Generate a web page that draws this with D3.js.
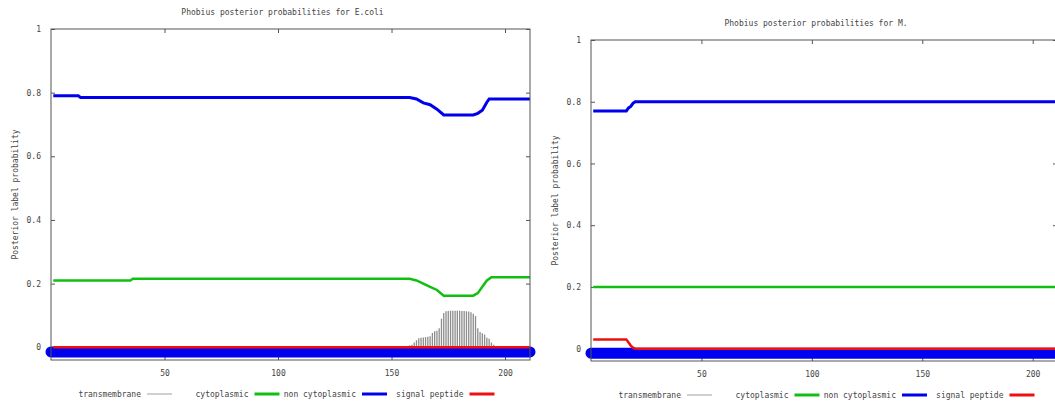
<!DOCTYPE html>
<html>
<head>
<meta charset="utf-8">
<script src="https://cdn.jsdelivr.net/npm/d3@7"></script>
<style>
  body { margin: 0; background: #fff; }
  text { font-family: "DejaVu Sans Mono", monospace; font-size: 8px; fill: #444; }
</style>
</head>
<body>
<div id="chart"></div>
<script>
const yTicks = [0, 0.2, 0.4, 0.6, 0.8, 1];
const xTicks = [50, 100, 150, 200];
const legendNames = ["transmembrane", "cytoplasmic", "non cytoplasmic", "signal peptide"];
const legendColors = ["#a0a0a0", "#10c010", "#0000ee", "#ee1010"];

// E.coli
const ecoliTmStart = 156;
const ecoliTm = [0.002, 0.004, 0.006, 0.008, 0.015, 0.022, 0.028, 0.03, 0.031, 0.032,
  0.033, 0.035, 0.045, 0.05, 0.052, 0.06, 0.09, 0.108, 0.113, 0.114,
  0.115, 0.115, 0.115, 0.115, 0.115, 0.114, 0.114, 0.113, 0.112, 0.11,
  0.105, 0.098, 0.06, 0.048, 0.044, 0.04, 0.03, 0.027, 0.015, 0.008,
  0.004, 0.001];
const ecoliCyto = [[1, 0.21], [35, 0.21], [36, 0.215], [158, 0.215], [161, 0.21], [164, 0.2],
  [167, 0.19], [170, 0.18], [173, 0.162], [186, 0.162], [188, 0.17], [190, 0.19],
  [192, 0.21], [194, 0.22], [211, 0.22]];
const ecoliNonCyto = [[1, 0.79], [12, 0.79], [13, 0.785], [158, 0.785], [161, 0.78], [164, 0.768],
  [167, 0.762], [170, 0.748], [173, 0.73], [186, 0.73], [188, 0.735], [190, 0.745],
  [192, 0.77], [193, 0.78], [211, 0.78]];
const ecoliSignal = [[1, 0], [211, 0]];

// M.
const mTmStart = 1;
const mTm = [];
const mCyto = [[1, 0.2], [211, 0.2]];
const mNonCyto = [[1, 0.77], [16, 0.77], [17, 0.78], [18, 0.785], [19, 0.795], [20, 0.8], [211, 0.8]];
const mSignal = [[1, 0.03], [16, 0.03], [17, 0.02], [18, 0.01], [19, 0.003], [20, 0], [211, 0]];

const svg = d3.select("#chart").append("svg")
  .attr("width", 1055).attr("height", 404);

function drawPanel(p) {
  const x = d3.scaleLinear().domain([0, 211]).range([p.left, p.right]);
  const y = d3.scaleLinear().domain([-0.04, 1]).range([p.bottom, p.top]);
  const g = svg.append("g");

  // title
  g.append("text")
    .attr("x", (p.left + p.right) / 2 - 8)
    .attr("y", p.top - 14)
    .attr("text-anchor", "middle")
    .text(p.title);

  // y label
  g.append("text")
    .attr("transform", `translate(${p.left - 36},${(p.top + p.bottom) / 2}) rotate(-90)`)
    .attr("text-anchor", "middle")
    .attr("dy", "0.35em")
    .text("Posterior label probability");

  // axes, ticks pointing inwards
  const axes = [
    [d3.axisLeft(y).tickValues(yTicks).tickFormat(d3.format("~g")), `translate(${p.left},0)`, true],
    [d3.axisRight(y).tickValues(yTicks), `translate(${p.right},0)`, false],
    [d3.axisBottom(x).tickValues(xTicks), `translate(0,${p.bottom})`, true],
    [d3.axisTop(x).tickValues(xTicks), `translate(0,${p.top})`, false]
  ];
  axes.forEach(([ax, tr, labels]) => {
    const a = g.append("g").attr("transform", tr)
      .call(ax.tickSize(-4).tickPadding(labels ? 10 : 0));
    a.select(".domain").remove();
    a.selectAll("line").attr("stroke", "#555");
    if (labels) a.selectAll("text").attr("font-family", null).attr("font-size", null);
    else a.selectAll("text").remove();
  });

  // transmembrane impulses
  g.selectAll(".tm").data(p.tm)
    .join("line")
    .attr("x1", (d, i) => x(p.tmStart + i))
    .attr("x2", (d, i) => x(p.tmStart + i))
    .attr("y1", y(0))
    .attr("y2", d => y(d))
    .attr("stroke", "#8c8c8c")
    .attr("stroke-width", 1.3);

  const line = d3.line().x(d => x(d[0])).y(d => y(d[1]));

  g.append("path").datum(p.cyto)
    .attr("d", line).attr("fill", "none")
    .attr("stroke", legendColors[1]).attr("stroke-width", 2.5);
  g.append("path").datum(p.nonCyto)
    .attr("d", line).attr("fill", "none")
    .attr("stroke", legendColors[2]).attr("stroke-width", 3);

  // predicted topology band
  g.append("line")
    .attr("x1", x(0)).attr("x2", x(211))
    .attr("y1", y(-0.0145)).attr("y2", y(-0.0145))
    .attr("stroke", "#0000f0").attr("stroke-width", 11)
    .attr("stroke-linecap", "round");

  g.append("path").datum(p.signal)
    .attr("d", line).attr("fill", "none")
    .attr("stroke", legendColors[3]).attr("stroke-width", 2.5);

  // border
  g.append("rect")
    .attr("x", p.left).attr("y", p.top)
    .attr("width", p.right - p.left).attr("height", p.bottom - p.top)
    .attr("fill", "none").attr("stroke", "#555").attr("stroke-width", 1);

  // legend
  legendNames.forEach((name, i) => {
    const lx = p.left + 96 + i * 107.5;
    g.append("text")
      .attr("x", lx - 6).attr("y", p.legendY)
      .attr("dy", "0.35em")
      .attr("text-anchor", "end")
      .text(name);
    g.append("line")
      .attr("x1", lx).attr("x2", lx + 25)
      .attr("y1", p.legendY).attr("y2", p.legendY)
      .attr("stroke", legendColors[i])
      .attr("stroke-width", i === 0 ? 1 : 3);
  });
}

drawPanel({
  title: "Phobius posterior probabilities for E.coli",
  left: 51, right: 530, top: 29, bottom: 360, legendY: 394,
  tm: ecoliTm, tmStart: ecoliTmStart,
  cyto: ecoliCyto, nonCyto: ecoliNonCyto, signal: ecoliSignal
});

drawPanel({
  title: "Phobius posterior probabilities for M.",
  left: 591, right: 1057, top: 40, bottom: 361, legendY: 395,
  tm: mTm, tmStart: mTmStart,
  cyto: mCyto, nonCyto: mNonCyto, signal: mSignal
});
</script>
</body>
</html>
